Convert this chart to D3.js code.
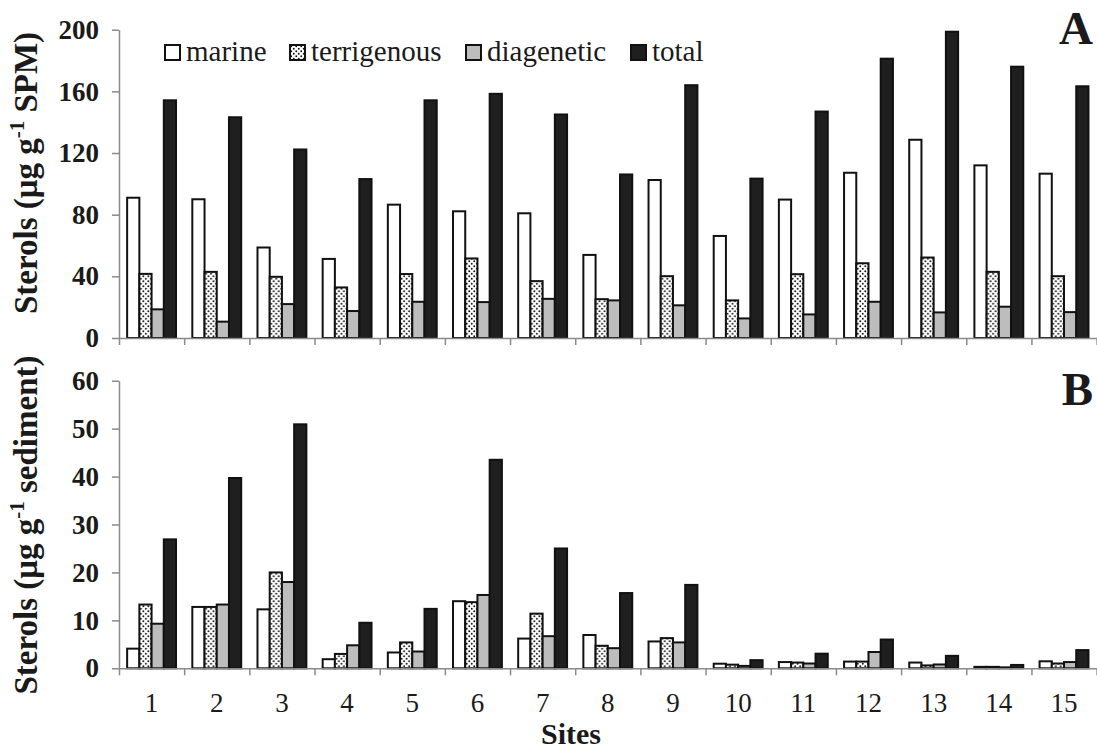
<!DOCTYPE html>
<html>
<head>
<meta charset="utf-8">
<script src="https://cdn.jsdelivr.net/npm/d3@7"></script>
<style>
  html, body { margin: 0; padding: 0; background: #fff; }
  svg { display: block; }
  svg text { font-family: "Liberation Serif", "Times New Roman", Times, serif; }
</style>
</head>
<body>
<svg id="chart" width="1097" height="751"></svg>
<script>
// Sites along the x axis
const sites = ["1","2","3","4","5","6","7","8","9","10","11","12","13","14","15"];
const seriesNames = ["marine", "terrigenous", "diagenetic", "total"];

// Panel A: sterols in suspended particulate matter (µg g-1 SPM)
const spmMarine      = [91, 90, 58.7, 51.3, 86.5, 82.2, 80.9, 53.9, 102.5, 66.2, 89.8, 107.2, 128.6, 112, 106.6];
const spmTerrigenous = [41.6, 42.9, 39.7, 32.8, 41.5, 51.6, 36.9, 25.2, 40.1, 24.4, 41.4, 48.5, 52.2, 42.9, 40.1];
const spmDiagenetic  = [18.6, 10.6, 22, 17.5, 23.5, 23.3, 25.4, 24.4, 21.2, 12.7, 15.3, 23.5, 16.6, 20.3, 16.8];
const spmTotal       = [154.2, 143.2, 122.3, 103.1, 154.2, 158.4, 145, 106.1, 164, 103.4, 146.9, 181.2, 198.7, 176, 163.3];

// Panel B: sterols in surface sediment (µg g-1 sediment)
const sedMarine      = [4.1, 12.8, 12.3, 1.9, 3.3, 14.0, 6.2, 6.95, 5.6, 0.96, 1.3, 1.4, 1.2, 0.3, 1.46];
const sedTerrigenous = [13.3, 12.8, 20, 3.0, 5.4, 13.8, 11.4, 4.7, 6.3, 0.76, 1.2, 1.4, 0.6, 0.3, 1.0];
const sedDiagenetic  = [9.3, 13.3, 18, 4.8, 3.5, 15.3, 6.7, 4.2, 5.4, 0.5, 1.0, 3.4, 0.8, 0.2, 1.3];
const sedTotal       = [26.9, 39.7, 50.9, 9.5, 12.4, 43.5, 25.0, 15.7, 17.4, 1.7, 3.05, 6.0, 2.6, 0.7, 3.8];

// Tick values
const ticksA = [0, 40, 80, 120, 160, 200];
const ticksB = [0, 10, 20, 30, 40, 50, 60];

const FONT = "Liberation Serif, Times New Roman, Times, serif";
const svg = d3.select("#chart").attr("font-family", FONT);
const AXIS_COLOR = "#8a8a8a";
const INK = "#1a1a1a";

// Dotted fill for terrigenous bars
const defs = svg.append("defs");
const pat = defs.append("pattern")
  .attr("id", "dots").attr("patternUnits", "userSpaceOnUse")
  .attr("width", 5).attr("height", 5);
pat.append("rect").attr("width", 5).attr("height", 5).attr("fill", "#fff");
pat.append("circle").attr("cx", 1.25).attr("cy", 1.25).attr("r", 0.95).attr("fill", "#111");
pat.append("circle").attr("cx", 3.75).attr("cy", 3.75).attr("r", 0.95).attr("fill", "#111");

const fills = {
  marine: "#ffffff",
  terrigenous: "url(#dots)",
  diagenetic: "#bdbdbd",
  total: "#1f1f1f"
};

const x0 = d3.scaleBand().domain(sites).range([119, 1096.6]).paddingInner(0.25).paddingOuter(0.125);
const x1 = d3.scaleBand().domain(seriesNames).range([0, x0.bandwidth()]);
const xEdge = d3.scaleLinear().domain([0, sites.length]).range([119, 1096.6]);

function drawPanel(cfg) {
  const g = svg.append("g");
  const y = d3.scaleLinear().domain(cfg.domain).range([cfg.y0, cfg.yTop]);

  // bars
  const rows = sites.map((s, i) => ({
    site: s,
    values: seriesNames.map((k, j) => ({ key: k, value: cfg.series[j][i] }))
  }));
  const grp = g.selectAll("g.site").data(rows).join("g")
    .attr("transform", d => `translate(${x0(d.site)},0)`);
  grp.selectAll("rect").data(d => d.values).join("rect")
    .attr("x", d => x1(d.key))
    .attr("y", d => y(d.value))
    .attr("width", x1.bandwidth())
    .attr("height", d => y(0) - y(d.value))
    .attr("fill", d => fills[d.key])
    .attr("stroke", "#111")
    .attr("stroke-width", 2);

  // y axis
  const yAxis = d3.axisLeft(y).tickValues(cfg.ticks).tickSize(7).tickSizeOuter(0).tickPadding(13);
  const ya = g.append("g").attr("transform", "translate(119,0)").call(yAxis);
  ya.attr("font-family", FONT);
  ya.select(".domain").attr("stroke", AXIS_COLOR).attr("stroke-width", 1.5);
  ya.selectAll(".tick line").attr("stroke", AXIS_COLOR).attr("stroke-width", 1.5);
  ya.selectAll(".tick text")
    .attr("font-family", FONT)
    .attr("font-size", 27).attr("font-weight", "bold").attr("fill", INK);

  // x axis: ticks between sites
  const xAxis = d3.axisBottom(xEdge).tickValues(d3.range(0, sites.length + 1)).tickSize(7).tickSizeOuter(0).tickFormat("");
  const xa = g.append("g").attr("transform", `translate(0,${cfg.y0})`).call(xAxis);
  xa.select(".domain").attr("stroke", AXIS_COLOR).attr("stroke-width", 1.5);
  xa.selectAll(".tick line").attr("stroke", AXIS_COLOR).attr("stroke-width", 1.5);

  if (cfg.siteLabels) {
    g.append("g").selectAll("text").data(sites).join("text")
      .attr("x", d => x0(d) + x0.bandwidth() / 2)
      .attr("y", cfg.y0 + 44)
      .attr("text-anchor", "middle")
      .attr("font-family", FONT)
      .attr("font-size", 27).attr("fill", INK)
      .text(d => d);
  }

  // y axis title with superscript
  const t = g.append("text")
    .attr("transform", `translate(${cfg.titleX},${cfg.titleY}) rotate(-90)`)
    .attr("text-anchor", "middle")
    .attr("font-family", FONT)
    .attr("font-size", 33).attr("font-weight", "bold").attr("fill", INK);
  t.append("tspan").text("Sterols (μg g");
  t.append("tspan").attr("font-size", 21).attr("dy", -13).text("-1");
  t.append("tspan").attr("dy", 13).text(" " + cfg.unit + ")");

  // panel letter
  g.append("text")
    .attr("x", 1093).attr("y", cfg.letterY)
    .attr("text-anchor", "end")
    .attr("font-family", FONT)
    .attr("font-size", 47).attr("font-weight", "bold").attr("fill", INK)
    .text(cfg.letter);
}

drawPanel({
  domain: [0, 200], y0: 338, yTop: 29.7, ticks: ticksA,
  series: [spmMarine, spmTerrigenous, spmDiagenetic, spmTotal],
  siteLabels: false, titleX: 37, titleY: 173, unit: "SPM",
  letter: "A", letterY: 44
});

drawPanel({
  domain: [0, 60], y0: 668.3, yTop: 380.7, ticks: ticksB,
  series: [sedMarine, sedTerrigenous, sedDiagenetic, sedTotal],
  siteLabels: true, titleX: 37, titleY: 525, unit: "sediment",
  letter: "B", letterY: 405
});

// x axis title
svg.append("text")
  .attr("x", 571).attr("y", 744)
  .attr("text-anchor", "middle")
  .attr("font-family", FONT)
  .attr("font-size", 30).attr("font-weight", "bold").attr("fill", INK)
  .text("Sites");

// legend
const legendPos = [
  { key: "marine", bx: 165, tx: 186 },
  { key: "terrigenous", bx: 290, tx: 311 },
  { key: "diagenetic", bx: 466, tx: 487 },
  { key: "total", bx: 631, tx: 652 }
];
const lg = svg.append("g");
const items = lg.selectAll("g").data(legendPos).join("g");
items.append("rect")
  .attr("x", d => d.bx).attr("y", 45)
  .attr("width", 15).attr("height", 15)
  .attr("fill", d => fills[d.key])
  .attr("stroke", "#111").attr("stroke-width", 2);
items.append("text")
  .attr("x", d => d.tx).attr("y", 61)
  .attr("font-family", FONT)
  .attr("font-size", 29).attr("fill", INK)
  .text(d => d.key);
</script>
</body>
</html>
